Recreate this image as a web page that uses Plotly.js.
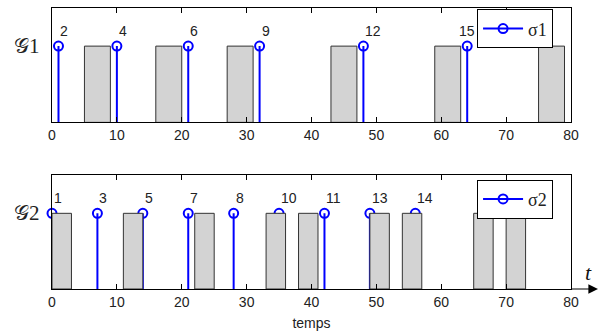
<!DOCTYPE html>
<html>
<head>
<meta charset="utf-8">
<script src="https://cdn.plot.ly/plotly-3.0.1.min.js"></script>
<style>html,body{margin:0;padding:0;background:#fff;}#chart{width:616px;height:332px;}</style>
</head>
<body>
<div id="chart"></div>
<script>
// ---- data ----
const xTicks = [0, 10, 20, 30, 40, 50, 60, 70, 80];

const sigma1Times  = [1, 10, 21, 32, 48, 64];
const sigma1Levels = [1, 1, 1, 1, 1, 1];
const sigma1Labels = ['2', '4', '6', '9', '12', '15'];

const g1BarStarts  = [5, 16, 27, 43, 59, 75];
const g1BarEnds    = [9, 20, 31, 47, 63, 79];
const g1BarHeights = [1, 1, 1, 1, 1, 1];

const sigma2Times  = [0, 7, 14, 21, 28, 35, 42, 49, 56];
const sigma2Levels = [1, 1, 1, 1, 1, 1, 1, 1, 1];
const sigma2Labels = ['1', '3', '5', '7', '8', '10', '11', '13', '14'];

const g2BarStarts  = [0, 11, 22, 33, 38, 49, 54, 65, 70];
const g2BarEnds    = [3, 14, 25, 36, 41, 52, 57, 68, 73];
const g2BarHeights = [1, 1, 1, 1, 1, 1, 1, 1, 1];

// ---- helpers ----
const BLUE = '#0000ff';
const SANS = 'Arial, "Liberation Sans", sans-serif';
const SERIF = '"Liberation Serif", "Times New Roman", serif';
function stemPath(times, levels) {
  const x = [], y = [];
  times.forEach((t, i) => { x.push(t, t, null); y.push(0, levels[i], null); });
  return {x, y};
}
function barPolys(starts, ends, heights) {
  const x = [], y = [];
  starts.forEach((s, i) => {
    const e = ends[i], h = heights[i];
    x.push(s, s, e, e, s, null);
    y.push(0, h, h, 0, 0, null);
  });
  return {x, y};
}
function panelTraces(times, levels, starts, ends, heights, xa, ya, name, legendId) {
  const st = stemPath(times, levels);
  const bp = barPolys(starts, ends, heights);
  return [
    {type: 'scatter', mode: 'lines', x: st.x, y: st.y, xaxis: xa, yaxis: ya,
     line: {color: BLUE, width: 2}, showlegend: false, hoverinfo: 'skip', cliponaxis: false},
    {type: 'scatter', mode: 'markers', x: times, y: levels, xaxis: xa, yaxis: ya,
     marker: {symbol: 'circle-open', size: 9, color: BLUE, line: {width: 2, color: BLUE}},
     showlegend: false, cliponaxis: false},
    {type: 'scatter', mode: 'lines', x: bp.x, y: bp.y, xaxis: xa, yaxis: ya,
     fill: 'toself', fillcolor: '#d3d3d3', line: {color: '#333333', width: 1},
     showlegend: false, hoverinfo: 'skip'},
    {type: 'scatter', mode: 'lines+markers', x: [null], y: [null], xaxis: xa, yaxis: ya,
     name: name, legend: legendId,
     line: {color: BLUE, width: 2},
     marker: {symbol: 'circle-open', size: 9, color: BLUE, line: {width: 2, color: BLUE}}}
  ];
}

const traces = [].concat(
  panelTraces(sigma1Times, sigma1Levels, g1BarStarts, g1BarEnds, g1BarHeights, 'x', 'y', 'σ1', 'legend'),
  panelTraces(sigma2Times, sigma2Levels, g2BarStarts, g2BarEnds, g2BarHeights, 'x2', 'y2', 'σ2', 'legend2')
);

// event number labels
const legendZoneStart = 60;
function labelAnnots(times, levels, labels, xref, yref) {
  return times.map((t, i) => ({
    x: t, y: levels[i], xref: xref, yref: yref, text: labels[i], showarrow: false,
    xanchor: t > legendZoneStart ? 'center' : 'left', yanchor: 'bottom',
    yshift: 5, font: {family: SANS, size: 14, color: '#222'}
  }));
}

const tickFont = {family: SANS, size: 14, color: '#222'};
function xAxis(anchor, extra) {
  return Object.assign({
    anchor: anchor, range: [0, 80], tickvals: xTicks, ticktext: xTicks.map(String),
    ticks: 'inside', ticklen: 5, tickcolor: '#000', mirror: 'ticks',
    showline: true, linecolor: '#000', linewidth: 1, showgrid: false, zeroline: false,
    tickfont: tickFont, fixedrange: true
  }, extra || {});
}
function yAxis(domain, anchor) {
  return {
    domain: domain, anchor: anchor, range: [0, 1.5], showticklabels: false, ticks: '',
    showline: true, mirror: true, linecolor: '#000', linewidth: 1,
    showgrid: false, zeroline: false, fixedrange: true
  };
}
const legendStyle = (y) => ({
  x: 0.819, y: y, xanchor: 'left', yanchor: 'top',
  bgcolor: '#fff', bordercolor: '#000', borderwidth: 1,
  font: {family: SERIF, size: 18, color: '#222'},
  itemwidth: 40
});

const layout = {
  width: 616, height: 332,
  margin: {l: 52, r: 45, t: 8, b: 43},
  paper_bgcolor: '#fff', plot_bgcolor: '#fff',
  xaxis: xAxis('y'),
  yaxis: yAxis([0.593, 1], 'x'),
  xaxis2: xAxis('y2', {title: {text: 'temps', font: {family: SANS, size: 14, color: '#222'}, standoff: 9}}),
  yaxis2: yAxis([0, 0.404], 'x2'),
  legend: legendStyle(0.995),
  legend2: legendStyle(0.389),
  annotations: [].concat(
    labelAnnots(sigma1Times, sigma1Levels, sigma1Labels, 'x', 'y'),
    labelAnnots(sigma2Times, sigma2Levels, sigma2Labels, 'x2', 'y2'),
    [
      {xref: 'paper', yref: 'y', x: -0.019, y: 1, xanchor: 'right', yanchor: 'middle', showarrow: false,
       text: '𝒢<span style="font-family:Liberation Serif">1</span>', font: {family: 'DejaVu Serif, serif', size: 21, color: '#222'}},
      {xref: 'paper', yref: 'y2', x: -0.019, y: 1, xanchor: 'right', yanchor: 'middle', showarrow: false,
       text: '𝒢<span style="font-family:Liberation Serif">2</span>', font: {family: 'DejaVu Serif, serif', size: 21, color: '#222'}},
      {xref: 'paper', yref: 'y2', x: 1.052, y: 0, ax: -28, ay: 0, text: '', showarrow: true,
       arrowhead: 2, arrowsize: 1.6, arrowwidth: 1.2, arrowcolor: '#000'},
      {xref: 'paper', yref: 'y2', x: 1.033, y: 0.22, xanchor: 'center', yanchor: 'middle', showarrow: false,
       text: '<i>t</i>', font: {family: 'Liberation Serif, DejaVu Serif, serif', size: 22, color: '#111'}}
    ]
  )
};

Plotly.newPlot('chart', traces, layout, {displayModeBar: false, staticPlot: true});
</script>
</body>
</html>
